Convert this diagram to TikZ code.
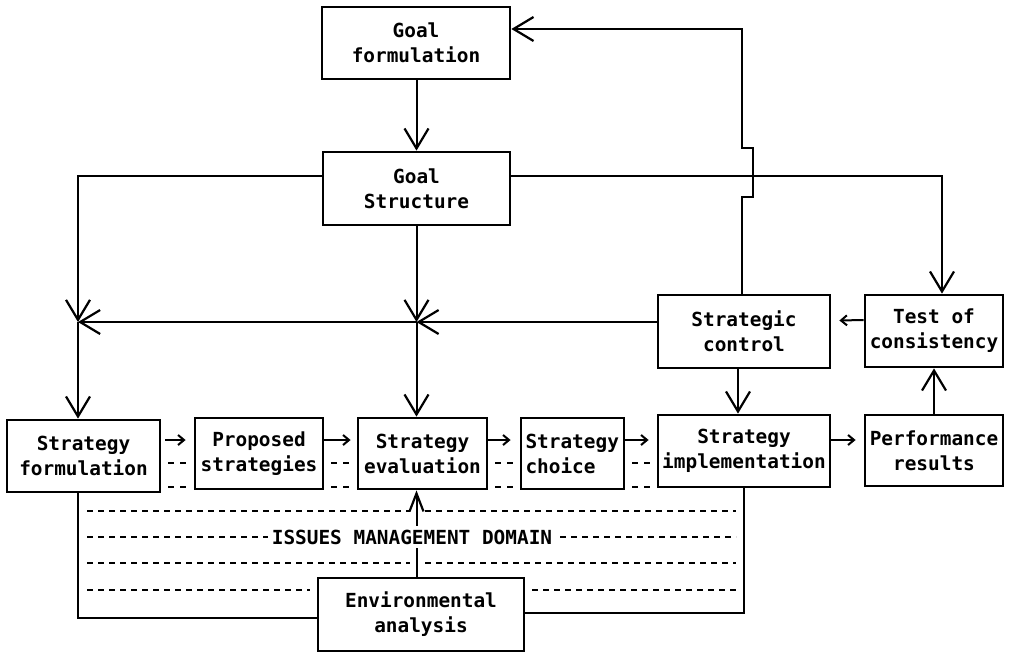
\documentclass[tikz,border=0pt]{standalone}
\usepackage{fontspec}
\setmonofont{DejaVu Sans Mono}
\usetikzlibrary{arrows.meta,calc}
\begin{document}
\begin{tikzpicture}[x=0.5pt,y=-0.5pt,
  every node/.style={font=\ttfamily\bfseries\fontsize{9.7}{12.5}\selectfont},
  box/.style={draw, line width=1.4pt, align=center, inner sep=0pt},
  wire/.style={line width=1pt},
  bigv/.style={wire, -{Straight Barb[length=10pt,width=12pt,line width=1.1pt]}},
  midv/.style={wire, -{Straight Barb[length=9pt,width=7pt,line width=1.1pt]}},
  smallv/.style={wire, -{Straight Barb[length=3pt,width=5pt,line width=1pt]}},
  shortdash/.style={line width=1pt, dash pattern=on 3pt off 3pt},
  domainline/.style={line width=1pt, dash pattern=on 3pt off 2.5pt}]
\useasboundingbox (0,0) rectangle (1012,664);

% boxes
\node[box, minimum width=94pt,   minimum height=36pt]   (gf)  at (416,43)      {Goal\\formulation};
\node[box, minimum width=93.5pt, minimum height=36.5pt] (gs)  at (416.5,188.5) {Goal\\Structure};
\node[box, minimum width=86pt,   minimum height=36.5pt] (sc)  at (744,331.5)   {Strategic\\control};
\node[box, minimum width=69pt,   minimum height=36pt]   (tc)  at (934,331)     {Test of\\consistency};
\node[box, minimum width=76.5pt, minimum height=36pt]   (sf)  at (83.5,456)    {Strategy\\formulation};
\node[box, minimum width=64pt,   minimum height=35.5pt] (ps)  at (259,453.5)   {Proposed\\strategies};
\node[box, minimum width=64.5pt, minimum height=35.5pt] (se)  at (422.5,453.5) {Strategy\\evaluation};
\node[box, minimum width=51.5pt, minimum height=35.5pt, align=left, text width=47pt] (sch) at (572.5,453.5) {Strategy\\choice};
\node[box, minimum width=86pt,   minimum height=36pt]   (si)  at (744,451)     {Strategy\\implementation};
\node[box, minimum width=69pt,   minimum height=35.5pt] (pr)  at (934,450.5)   {Performance\\results};
\node[box, minimum width=103pt,  minimum height=36.5pt] (ea)  at (421,614.5)   {Environmental\\analysis};

% helper coordinates
\coordinate (xl)   at (78,0);
\coordinate (r1)   at (0,440);
\coordinate (r2)   at (0,463);
\coordinate (r3)   at (0,487);
\coordinate (gsl)  at ([yshift=6.5pt]gs.west);
\coordinate (gsr)  at ([yshift=6.5pt]gs.east);
\coordinate (cl)   at (gsl -| xl);
\coordinate (hl)   at ([yshift=4.75pt]sc.west);
\coordinate (jl)   at (xl |- hl);
\coordinate (jm)   at (gs.south |- hl);
\coordinate (tcin) at ([xshift=4pt]tc.north);
\coordinate (scout) at ([xshift=-1pt]sc.north);
\coordinate (gfin) at ([yshift=7pt]gf.east);

% goal formulation to goal structure
\draw[bigv] (gf.south) -- (gs.south |- gf.south) -- (gs.north);

% goal structure down the left side to strategy formulation
\draw[bigv] (gsl) -- (cl) -- (jl);
\draw[bigv] (jl) -- (xl |- sf.north);

% goal structure down the middle to strategy evaluation
\draw[bigv] (gs.south) -- (jm);
\draw[bigv] (jm) -- (gs.south |- se.north);

% strategic control feeding back to the left
\draw[bigv] (hl) -- (jm);
\draw[bigv] (jm) -- (jl);

% goal structure to test of consistency
\draw[bigv] (gsr) -| (tcin);

% strategic control back up to goal formulation, hopping the crossing line
\draw[bigv] (scout) -- ++(0,-97) -- ++(11,0) -- ++(0,-49) -- ++(-11,0) |- (gfin);

% control loop on the right
\draw[bigv] ([xshift=-3pt]sc.south) -- ([xshift=-3pt]si.north);
\draw[bigv] (pr.north) -- (pr.north |- tc.south);
\draw[smallv] ([yshift=5.5pt]tc.west) -- ([xshift=4pt,yshift=5.5pt]sc.east);

% process chain along the bottom row
\draw[smallv] ($(sf.east|-r1)+(4,0)$) -- ($(ps.west|-r1)+(-8,0)$);
\draw[smallv] (ps.east|-r1) -- ($(se.west|-r1)+(-6,0)$);
\draw[smallv] (se.east|-r1) -- ($(sch.west|-r1)+(-9,0)$);
\draw[smallv] (sch.east|-r1) -- ($(si.west|-r1)+(-8,0)$);
\draw[smallv] (si.east|-r1) -- ($(pr.west|-r1)+(-8,0)$);
\foreach \a in {sf,ps,se,sch}{
  \foreach \r in {r2,r3}{
    \draw[shortdash] ($(\a.east|-\r)+(7,0)$) -- ++(18,0);
  }
}

% issues management domain
\draw[domainline] (87,511) -- (410,511);
\draw[domainline] (425,511) -- (736,511);
\draw[domainline] (87,537) -- (736,537);
\draw[domainline] (87,563) -- (410,563);
\draw[domainline] (425,563) -- (736,563);
\draw[domainline] (87,590) -- (310,590);
\draw[domainline] (532,590) -- (736,590);

% environmental analysis links
\draw[midv] (gs.south |- ea.north) -- (gs.south |- se.south);
\draw[wire] (xl |- sf.south) |- ($(ea.west)+(0,3.5)$);
\draw[wire] (si.south) |- ($(ea.east)+(0,-1.5)$);

\node[fill=white, inner sep=2pt] (imd) at (412,537) {ISSUES MANAGEMENT DOMAIN};
\end{tikzpicture}
\end{document}
